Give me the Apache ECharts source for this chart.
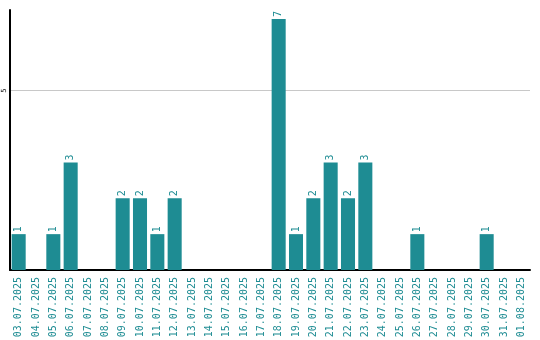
<!DOCTYPE html>
<html><head><meta charset="utf-8">
<script src="https://cdn.jsdelivr.net/npm/echarts@6/dist/echarts.min.js"></script>
<style>html,body{margin:0;padding:0;background:#fff}#c{width:540px;height:340px}</style>
</head><body><div id="c"></div>
<script>
const categories = ["03.07.2025","04.07.2025","05.07.2025","06.07.2025","07.07.2025","08.07.2025","09.07.2025","10.07.2025","11.07.2025","12.07.2025","13.07.2025","14.07.2025","15.07.2025","16.07.2025","17.07.2025","18.07.2025","19.07.2025","20.07.2025","21.07.2025","22.07.2025","23.07.2025","24.07.2025","25.07.2025","26.07.2025","27.07.2025","28.07.2025","29.07.2025","30.07.2025","31.07.2025","01.08.2025"];
const values = [1,0,1,3,0,0,2,2,1,2,0,0,0,0,0,7,1,2,3,2,3,0,0,1,0,0,0,1,0,0];
const teal = '#1e8c93';
const chart = echarts.init(document.getElementById('c'));
chart.setOption({
  animation:false,
  grid:{left:10,right:10,top:10,bottom:70,containLabel:false,outerBoundsMode:'none'},
  xAxis:{type:'category',data:categories,
    axisLine:{lineStyle:{color:'#000',width:2}},
    axisTick:{show:false},
    axisLabel:{interval:0,rotate:90,color:teal,fontFamily:'DejaVu Sans Mono',fontSize:10,margin:7}},
  yAxis:{type:'value',min:0,max:7.25,interval:5,
    axisLine:{show:true,lineStyle:{color:'#000',width:2}},
    axisTick:{show:false},
    splitLine:{show:true,showMaxLine:false,showMinLine:false,lineStyle:{color:'#c8c8c8'}},
    axisLabel:{showMaxLabel:false,showMinLabel:false,rotate:90,color:'#000',fontSize:7,fontFamily:'DejaVu Sans Mono',margin:2}},
  series:[{type:'bar',data:values,barCategoryGap:'19%',itemStyle:{color:teal},
    label:{show:true,position:'top',rotate:90,align:'left',verticalAlign:'middle',distance:2,color:teal,fontFamily:'DejaVu Sans Mono',fontSize:10,
      formatter:p=>p.value>0?String(p.value):''}}]
});
</script></body></html>
